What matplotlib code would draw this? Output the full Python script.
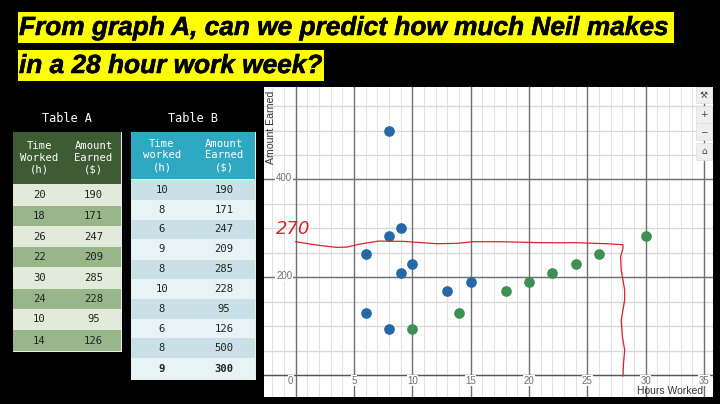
#!/bin/python3

import numpy as np
import matplotlib.pyplot as plt
from matplotlib.patches import Rectangle
import matplotlib.patheffects as pe

W, H = 720, 404

# scatter values
blue_x = [8, 9, 8, 6, 10, 9, 15, 13, 6, 8]
blue_y = [500, 300, 285, 247, 228, 209, 190, 171, 126, 95]
green_x = [10, 14, 18, 20, 22, 24, 26, 30]
green_y = [95, 126, 171, 190, 209, 228, 247, 285]

# the hand drawn red line
red_x = [0, 1.8, 3.5, 4.4, 5.5, 7.1, 9.2, 12.1, 13.8, 15.2, 17.5, 21.2, 24.1, 26.7, 28.05,
         28.05, 27.85, 27.9, 28.2, 28.2, 27.9, 28, 28.2, 28.1, 28.05]
red_y = [272.6, 265.7, 261, 261.6, 267.8, 273.9, 273.3, 268.5, 269.2, 272.6, 272.6, 270.5, 270.5, 268.5, 266.4,
         258.9, 241.9, 214.6, 173.8, 153.3, 112.4, 78.4, 51.1, 23.8, -2]

xticks = [0, 5, 10, 15, 20, 25, 30, 35]
yticks = [200, 400]

title_lines = ['From graph A, can we predict how much Neil makes', 'in a 28 hour work week?']

header_a = ['Time\nWorked\n(h)', 'Amount\nEarned\n($)']
hours_a = ['20', '18', '26', '22', '30', '24', '10', '14']
earned_a = ['190', '171', '247', '209', '285', '228', '95', '126']
header_b = ['Time\nworked\n(h)', 'Amount\nEarned\n($)']
hours_b = ['10', '8', '6', '9', '8', '10', '8', '6', '8', '9']
earned_b = ['190', '171', '247', '209', '285', '228', '95', '126', '500', '300']

fig = plt.figure(figsize=(W / 100, H / 100), dpi=100, facecolor='black')

# page axes in pixels, y going down
bg = fig.add_axes([0, 0, 1, 1])
bg.set_xlim(0, W)
bg.set_ylim(H, 0)
bg.axis('off')

# title
boxes = [(18, 12, 656, 31), (18, 50, 306, 31)]
for (x, y, w, h), line in zip(boxes, title_lines):
    bg.add_patch(Rectangle((x, y), w, h, color='#ffff00', lw=0))
    t = bg.text(x + 1, y + h / 2 + 0.5, line, family='Liberation Sans',
                weight='bold', style='italic', fontsize=18.9, va='center', ha='left', color='black')
    t.set_path_effects([pe.withStroke(linewidth=0.4, foreground='black')])


def draw_table(name, x0, xm, x1, y0, ym, rows_y, header, col1, col2, head_col, row_cols, bold_last=False):
    bg.text((x0 + x1) / 2, 118, name, family='DejaVu Sans Mono', fontsize=8.6, color='white', ha='center', va='center')
    bg.add_patch(Rectangle((x0 - 0.5, y0 - 0.5), x1 - x0 + 1, rows_y[-1] - y0 + 1, color='#e8eee6', lw=0))
    for xa, xb, label in [(x0, xm, header[0]), (xm, x1, header[1])]:
        bg.add_patch(Rectangle((xa + 0.3, y0), xb - xa - 0.6, ym - y0, color=head_col, lw=0))
        bg.text((xa + xb) / 2, (y0 + ym) / 2, label, family='DejaVu Sans Mono', fontsize=7.6, color='white',
                ha='center', va='center', linespacing=1.2)
    for i in range(len(col1)):
        ya, yb = rows_y[i], rows_y[i + 1]
        weight = 'bold' if bold_last and i == len(col1) - 1 else 'normal'
        for xa, xb, label in [(x0, xm, col1[i]), (xm, x1, col2[i])]:
            bg.add_patch(Rectangle((xa + 0.3, ya + 0.4), xb - xa - 0.6, yb - ya - 0.8, color=row_cols[i % 2], lw=0))
            bg.text((xa + xb) / 2, (ya + yb) / 2, label, family='DejaVu Sans Mono', fontsize=7.6, color='#222222',
                    ha='center', va='center', weight=weight)


rows_a = [184, 206, 226, 247, 267, 289, 309, 330, 351]
rows_b = [180, 200, 220, 239, 260, 279, 299, 319, 338, 358, 379]
draw_table('Table A', 13, 66, 121, 132, 184, rows_a, header_a, hours_a, earned_a,
           '#3e5c33', ['#e0ebd9', '#98b68a'])
draw_table('Table B', 131, 193, 255, 132, 179, rows_b, header_b, hours_b, earned_b,
           '#2fa8c1', ['#c9e1e6', '#e7f3f5'], bold_last=True)

# chart area
px0, px1, py0, py1 = 264, 713, 87, 397
ax = fig.add_axes([px0 / W, 1 - py1 / H, (px1 - px0) / W, (py1 - py0) / H])
ax.set_xlim(-2.72, 35.77)
ax.set_ylim(-45, 589)
ax.set_facecolor('white')
for s in ax.spines.values():
    s.set_visible(False)
ax.set_xticks([])
ax.set_yticks([])

for v in range(-2, 36):
    ax.axvline(v, color='#e2e2e2', lw=0.7, zorder=1)
for v in range(0, 600, 50):
    ax.axhline(v, color='#d8d8d8', lw=1.0, zorder=1)
for v in xticks:
    ax.axvline(v, color='#707070', lw=1.0, zorder=2)
ax.axhline(0, color='#555555', lw=1.0, zorder=2)
for v in yticks:
    ax.axhline(v, color='#707070', lw=1.0, zorder=2)

lab_font = 'Liberation Sans'
for v in xticks:
    xx = v - 0.43 if v == 0 else v
    ax.text(xx, -12, str(v), family=lab_font, fontsize=7, color='#707070', ha='center', va='center', zorder=3,
            bbox=dict(facecolor='white', edgecolor='none', pad=0.3))
for v in yticks:
    ax.text(-0.3, v + 2, str(v), family=lab_font, fontsize=7, color='#707070', ha='right', va='center', zorder=3,
            bbox=dict(facecolor='white', edgecolor='none', pad=0.5))

ax.text(34.9, -33, 'Hours Worked', family=lab_font, fontsize=7.5, color='#333333', ha='right', va='center', zorder=4)
ax.text(-2.15, 582, 'Amount Earned', family=lab_font, fontsize=7.6, color='#333333', rotation=90, ha='center', va='top', zorder=3)

ax.scatter(blue_x, blue_y, s=59, color='#2468a9', lw=0, zorder=5)
ax.scatter(green_x, green_y, s=59, color='#3d9051', lw=0, zorder=5)
ax.plot(red_x, red_y, color='#d8232a', lw=0.9, zorder=6)
ax.text(-0.23, 298, '270', family='DejaVu Sans', style='italic', fontsize=13, color='#d8232a', ha='center', va='center', zorder=6)

# toolbar buttons top right
top = fig.add_axes([0, 0, 1, 1], facecolor='none')
top.set_xlim(0, W)
top.set_ylim(H, 0)
top.axis('off')
for y, h, glyph in [(87, 16, '\u2692'), (106, 17, '+'), (123, 17, '\u2212'), (143, 17, '\u2302')]:
    top.add_patch(Rectangle((696, y), 16, h, facecolor='#eeeeee', edgecolor='#dddddd', lw=0.5))
    top.text(704, y + h / 2, glyph, family='DejaVu Sans', fontsize=6.5, color='#444444', ha='center', va='center')

fig.savefig('out.png', dpi=100, facecolor='black')
